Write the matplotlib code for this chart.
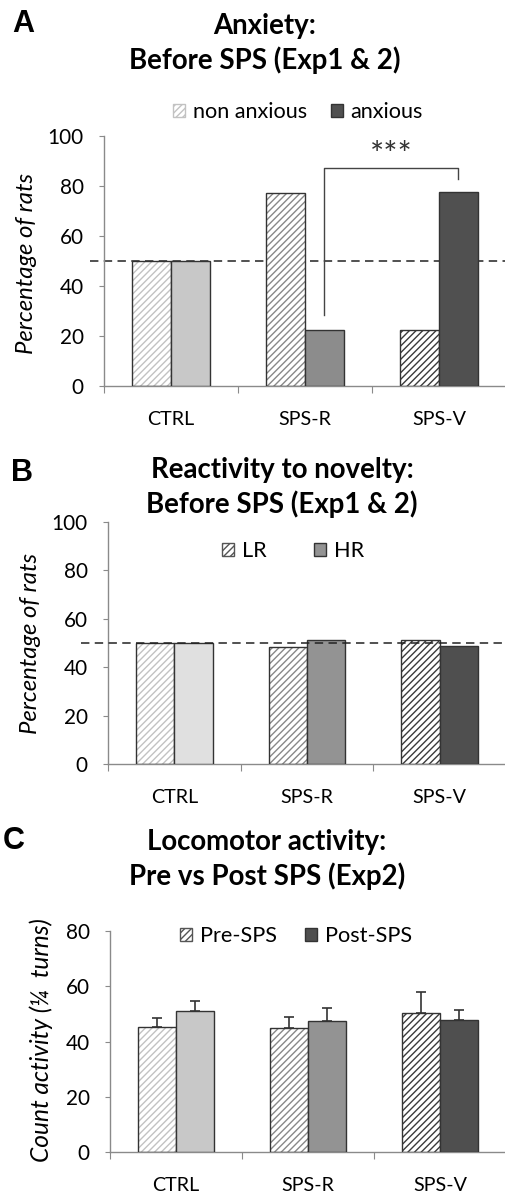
import matplotlib
matplotlib.use('Agg')
import matplotlib.pyplot as plt
from matplotlib.patches import Patch
import numpy as np

plt.rcParams['font.family'] = ['Lato', 'DejaVu Sans']
plt.rcParams['hatch.linewidth'] = 1.0

W, H = 506, 1195

groups = ['CTRL', 'SPS-R', 'SPS-V']

# A - anxiety before SPS (% of rats)
non_anxious = [50.0, 77.3, 22.3]
anxious = [50.0, 22.5, 77.5]

# B - reactivity to novelty (% of rats)
lr_pct = [49.8, 48.5, 51.3]
hr_pct = [50.0, 51.3, 48.6]

# C - locomotor activity (mean, sem)
pre_mean = [45.4, 45.0, 50.2]
pre_sem = [3.0, 3.8, 7.7]
post_mean = [51.1, 47.6, 47.9]
post_sem = [3.5, 4.5, 3.5]

hatch_cols = ['#c2c2c2', '#888888', '#3a3a3a']
solid_a = ['#c8c8c8', '#8c8c8c', '#505050']
solid_b = ['#e0e0e0', '#939393', '#4f4f4f']
solid_c = ['#c8c8c8', '#939393', '#4f4f4f']
edge = '#333333'
axis_grey = '#8a8a8a'


def fx(px):
    return px / W


def fy(py):
    return 1 - py / H


fig = plt.figure(figsize=(W / 100, H / 100), dpi=100)
renderer = fig.canvas.get_renderer()


def fit_size(s, width_px, **kw):
    # font size that gives the text the width it has in the original figure
    t = fig.text(0, 0, s, fontsize=10, **kw)
    w = t.get_window_extent(renderer=renderer).width
    t.remove()
    return 10 * width_px / w


YTICK_FS = fit_size('100', 36)
XTICK_FS = fit_size('CTRL', 47)
LEG_FS = fit_size('non anxious', 115)
YLAB_FS = fit_size('Percentage of rats', 181, style='italic')
YLAB_C_FS = fit_size('Count activity (\u00bc  turns)', 244, style='italic')
TITLE_FS = fit_size('Before SPS (Exp1 & 2)', 272, fontweight='bold')
STAR_FS = 24
LETTER_FS = 22


def panel(box, left_vals, right_vals, solids, ymax, yticks,
          left_err=None, right_err=None):
    l, t, r, b = box
    ax = fig.add_axes([fx(l), fy(b), fx(r) - fx(l), fy(t) - fy(b)])
    x = np.arange(len(groups)) + 0.5
    w = 0.288
    if left_err is not None:
        ax.errorbar(x - w / 2, left_vals, yerr=[np.zeros(3), left_err], fmt='none',
                    ecolor='#333333', elinewidth=1.2, capsize=3.5, capthick=1.2)
        ax.errorbar(x + w / 2, right_vals, yerr=[np.zeros(3), right_err], fmt='none',
                    ecolor='#333333', elinewidth=1.2, capsize=3.5, capthick=1.2)
    # hatched bars: hatch colour comes from the edge colour
    ax.bar(x - w / 2, left_vals, w, color='white', edgecolor=hatch_cols,
           hatch='/////', linewidth=0, zorder=2)
    ax.bar(x - w / 2, left_vals, w, fill=False, edgecolor=edge, linewidth=1.0, zorder=3)
    ax.bar(x + w / 2, right_vals, w, color=solids, edgecolor=edge, linewidth=1.0, zorder=3)

    ax.set_xlim(0, 3)
    ax.set_ylim(0, ymax)
    for s in ['top', 'right']:
        ax.spines[s].set_visible(False)
    for s in ['left', 'bottom']:
        ax.spines[s].set_color(axis_grey)
        ax.spines[s].set_linewidth(1.0)
    ax.set_xticks([0, 1, 2, 3])
    ax.set_xticklabels([])
    ax.set_xticks(x, minor=True)
    ax.set_xticklabels(groups, minor=True)
    ax.tick_params(axis='x', which='major', length=5, color=axis_grey)
    ax.tick_params(axis='x', which='minor', length=0, pad=18, labelsize=XTICK_FS)
    ax.set_yticks(yticks)
    ax.tick_params(axis='y', length=3.5, color=axis_grey, labelsize=YTICK_FS, pad=11)
    return ax, x, w


def legend(ax, handles, labels, cx, cy, gap_px):
    ax.legend(handles, labels, ncol=2, frameon=False, loc='center',
              bbox_to_anchor=(fx(cx), fy(cy)), bbox_transform=fig.transFigure,
              fontsize=LEG_FS, handlelength=0.55, handleheight=0.55,
              handletextpad=0.36, columnspacing=gap_px / (LEG_FS * 100 / 72),
              borderpad=0)


def title(cx, lines, baselines):
    for s, yb in zip(lines, baselines):
        fig.text(fx(cx), fy(yb), s, ha='center', va='baseline',
                 fontsize=TITLE_FS, fontweight='bold')


def letter(cx, cy, s):
    fig.text(fx(cx), fy(cy), s, ha='center', va='center', fontsize=LETTER_FS,
             fontweight='bold', family='Liberation Sans')


# ---- A ----
axA, x, w = panel((104, 136, 506, 386), non_anxious, anxious, solid_a,
                  100, [0, 20, 40, 60, 80, 100])
axA.plot([-0.105, 3], [50, 50], ls=(0, (5.5, 3.5)), color='#222222', lw=1.1,
         clip_on=False, zorder=1)
bx0, bx1 = x[1] + w / 2, x[2] + w / 2
axA.plot([bx0, bx0, bx1, bx1], [28.4, 87.2, 87.2, 82.8], color='#444444', lw=1.0)
axA.text((bx0 + bx1) / 2, 86.0, '***', ha='center', va='bottom', fontsize=STAR_FS,
         color='#333333')
legend(axA,
       [Patch(facecolor='white', edgecolor=hatch_cols[0], hatch='/////'),
        Patch(facecolor=solid_a[2], edgecolor=edge)],
       ['non anxious', 'anxious'], 298, 112, 24)
fig.text(fx(27), fy(263), 'Percentage of rats', rotation=90, ha='center',
         va='center', style='italic', fontsize=YLAB_FS)
title(265, ['Anxiety:', 'Before SPS (Exp1 & 2)'], [34, 69])
letter(23, 24, 'A')

# ---- B ----
axB, x, w = panel((108, 522, 506, 764), lr_pct, hr_pct, solid_b,
                  100, [0, 20, 40, 60, 80, 100])
axB.plot([-0.2, 3], [50, 50], ls=(0, (5.5, 3.5)), color='#222222', lw=1.1,
         clip_on=False, zorder=4)
legend(axB,
       [Patch(facecolor='white', edgecolor='#555555', hatch='/////'),
        Patch(facecolor=solid_b[1], edgecolor=edge)],
       ['LR', 'HR'], 293, 551, 48)
fig.text(fx(31), fy(643), 'Percentage of rats', rotation=90, ha='center',
         va='center', style='italic', fontsize=YLAB_FS)
title(282, ['Reactivity to novelty:', 'Before SPS (Exp1 & 2)'], [478, 513])
letter(22, 473, 'B')

# ---- C ----
axC, x, w = panel((110, 931, 506, 1152), pre_mean, post_mean, solid_c,
                  80, [0, 20, 40, 60, 80], pre_sem, post_sem)
legend(axC,
       [Patch(facecolor='white', edgecolor='#555555', hatch='/////'),
        Patch(facecolor=solid_c[2], edgecolor=edge)],
       ['Pre-SPS', 'Post-SPS'], 296, 936, 28)
fig.text(fx(41), fy(1040), 'Count activity (\u00bc  turns)', rotation=90,
         ha='center', va='center', style='italic', fontsize=YLAB_C_FS)
title(267, ['Locomotor activity:', 'Pre vs Post SPS (Exp2)'], [850, 885])
letter(14, 841, 'C')

fig.savefig('out.png', dpi=100)
